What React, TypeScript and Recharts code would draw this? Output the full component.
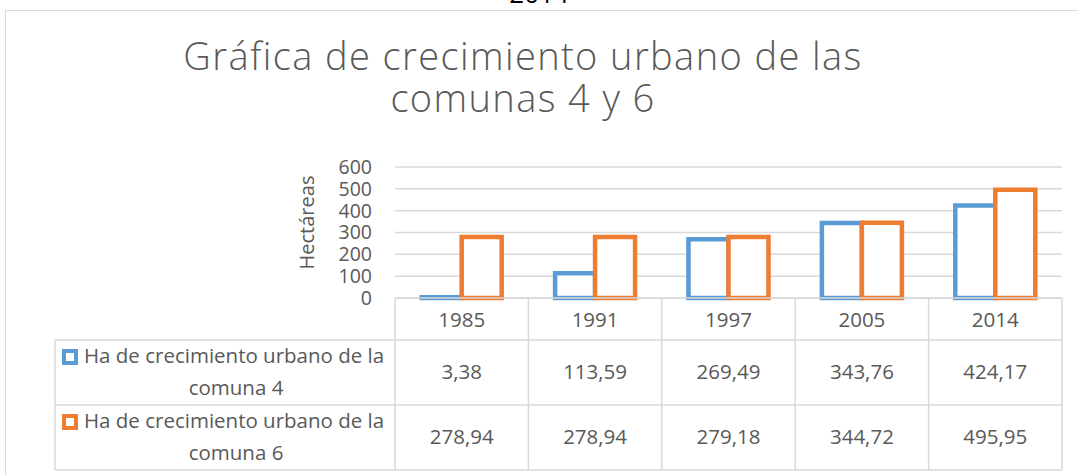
import { BarChart, Bar, XAxis, YAxis, CartesianGrid } from 'recharts';

const years = ['1985', '1991', '1997', '2005', '2014'];
const comuna4 = [3.38, 113.59, 269.49, 343.76, 424.17];
const comuna6 = [278.94, 278.94, 279.18, 344.72, 495.95];
const yTicks = [0, 100, 200, 300, 400, 500, 600];

const seriesNames = ['Ha de crecimiento urbano de la comuna 4', 'Ha de crecimiento urbano de la comuna 6'];
const seriesColors = ['#5B9BD5', '#ED7D31'];

const chartData = years.map((year, i) => ({ year, c4: comuna4[i], c6: comuna6[i] }));

const FONT = '"Open Sans", sans-serif';
const TEXT = '#595959';
const LINE = '#D9D9D9';

const PLOT_LEFT = 395;
const PLOT_RIGHT = 1062;
const TABLE_LEFT = 55;
const ROW_LINES = [340, 405, 470];
const colWidth = (PLOT_RIGHT - PLOT_LEFT) / years.length;

const fmt = (v: number) => v.toFixed(2).replace('.', ',');

const TableColumn = ({ x, y, payload, index }: any) => {
  const left = x - colWidth / 2;
  const bottom = ROW_LINES[2];
  return (
    <g>
      <line x1={left} x2={left} y1={y} y2={bottom} stroke={LINE} strokeWidth={1.5} />
      {index === years.length - 1 && (
        <line x1={left + colWidth} x2={left + colWidth} y1={y} y2={bottom} stroke={LINE} strokeWidth={1.5} />
      )}
      <text x={x} y={y + 22} dy="0.35em" textAnchor="middle" fill={TEXT} fontSize={20.5} fontFamily={FONT}>
        {payload.value}
      </text>
      <text x={x} y={372} dy="0.35em" textAnchor="middle" fill={TEXT} fontSize={20.5} fontFamily={FONT}>
        {fmt(comuna4[index])}
      </text>
      <text x={x} y={437} dy="0.35em" textAnchor="middle" fill={TEXT} fontSize={20.5} fontFamily={FONT}>
        {fmt(comuna6[index])}
      </text>
    </g>
  );
};

export default function App() {
  return (
    <div style={{ position: 'absolute', left: 0, top: 0, width: 1078, height: 475, overflow: 'hidden', background: '#fff' }}>
      <div
        style={{
          position: 'absolute',
          left: 0,
          width: 1078,
          top: -22,
          textAlign: 'center',
          fontFamily: FONT,
          fontSize: 26,
          lineHeight: '30px',
          color: '#000',
        }}
      >
        2014
      </div>
      <div style={{ position: 'absolute', left: 5, top: 10, width: 1090, height: 480, border: `1.5px solid ${LINE}` }} />
      <svg style={{ position: 'absolute', left: 0, top: 0 }} width={1078} height={130}>
        <text x={523} y={70} textAnchor="middle" fill={TEXT} fontSize={38} fontWeight={300} letterSpacing={1.4} fontFamily={FONT}>
          Gráfica de crecimiento urbano de las
        </text>
        <text x={523} y={112} textAnchor="middle" fill={TEXT} fontSize={38} fontWeight={300} letterSpacing={1.4} fontFamily={FONT}>
          comunas 4 y 6
        </text>
      </svg>
      <div style={{ position: 'absolute', left: 0, top: 0 }}>
        <BarChart
          width={1078}
          height={475}
          data={chartData}
          margin={{ top: 167, right: 1078 - PLOT_RIGHT, bottom: 7, left: 305 }}
          barCategoryGap="20%"
          barGap={0}
        >
          <CartesianGrid vertical={false} stroke={LINE} strokeWidth={1.5} />
          <XAxis
            dataKey="year"
            height={170}
            tickLine={false}
            tickSize={0}
            tickMargin={0}
            axisLine={{ stroke: LINE, strokeWidth: 1.5 }}
            tick={<TableColumn />}
            interval={0}
          />
          <YAxis
            width={PLOT_LEFT - 305}
            domain={[0, 600]}
            ticks={yTicks}
            interval={0}
            tickLine={false}
            axisLine={false}
            tickSize={0}
            tickMargin={23}
            tick={{ fill: TEXT, fontSize: 19.5, fontFamily: FONT }}
            label={(props: any) => {
              const vb = props.viewBox || { y: 167, height: 131 };
              const cy = vb.y + vb.height / 2 - 10;
              return (
                <text
                  x={306}
                  y={cy}
                  transform={`rotate(-90 306 ${cy})`}
                  textAnchor="middle"
                  dominantBaseline="central"
                  fill={TEXT}
                  fontSize={20}
                  fontFamily={FONT}
                >
                  Hectáreas
                </text>
              );
            }}
          />
          <Bar dataKey="c4" name={seriesNames[0]} fill="#fff" stroke={seriesColors[0]} strokeWidth={4.5} isAnimationActive={false} />
          <Bar dataKey="c6" name={seriesNames[1]} fill="#fff" stroke={seriesColors[1]} strokeWidth={4.5} isAnimationActive={false} />
        </BarChart>
      </div>
      <svg style={{ position: 'absolute', left: 0, top: 0, pointerEvents: 'none' }} width={1078} height={475}>
        {ROW_LINES.map((ly) => (
          <line key={ly} x1={TABLE_LEFT} x2={PLOT_RIGHT} y1={ly} y2={ly} stroke={LINE} strokeWidth={1.5} />
        ))}
        <line x1={TABLE_LEFT} x2={TABLE_LEFT} y1={ROW_LINES[0]} y2={ROW_LINES[2]} stroke={LINE} strokeWidth={1.5} />
        {seriesNames.map((name, i) => {
          const top = ROW_LINES[i];
          const words = name.split(' ');
          const line2 = words.slice(-2).join(' ');
          const line1 = words.slice(0, -2).join(' ');
          return (
            <g key={name}>
              <rect x={62} y={top + 9} width={16} height={16} fill={seriesColors[i]} />
              <rect x={66} y={top + 13} width={8} height={8} fill="#fff" />
              <text x={84} y={top + 16} dy="0.35em" fill={TEXT} fontSize={20.5} fontFamily={FONT}>
                {line1}
              </text>
              <text x={236} y={top + 48} dy="0.35em" textAnchor="middle" fill={TEXT} fontSize={20.5} fontFamily={FONT}>
                {line2}
              </text>
            </g>
          );
        })}
      </svg>
    </div>
  );
}
